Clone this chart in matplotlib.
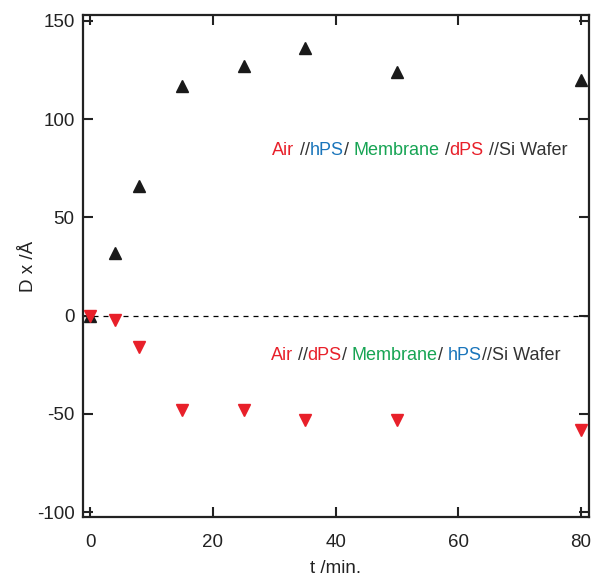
import matplotlib
matplotlib.use("Agg")
import matplotlib.pyplot as plt
from matplotlib.offsetbox import TextArea, HPacker, AnnotationBbox

fam = ["Liberation Sans", "DejaVu Sans"]
plt.rcParams['font.family'] = fam
plt.rcParams['axes.unicode_minus'] = False

# data
t_min = [0, 4, 8, 15, 25, 35, 50, 80]
dx_hps_top = [0, 32, 66, 117, 127, 136, 124, 120]
dx_dps_top = [0, -2, -16, -48, -48, -53, -53, -58]

xticks = [0, 20, 40, 60, 80]
yticks = [-100, -50, 0, 50, 100, 150]

RED = "#e8202a"
BLUE = "#1a75bb"
GREEN = "#17a454"
DARK = "#333333"

label1 = [("Air", RED), (" //", DARK), ("hPS", BLUE), ("/ ", DARK), ("Membrane", GREEN),
          (" /", DARK), ("dPS", RED), (" //Si Wafer", DARK)]
label2 = [("Air", RED), (" //", DARK), ("dPS", RED), ("/ ", DARK), ("Membrane", GREEN),
          ("/ ", DARK), ("hPS", BLUE), ("//Si Wafer", DARK)]

fig = plt.figure(figsize=(5.92, 5.76), dpi=100)
ax = fig.add_axes([0.140, 0.1024, 0.855, 0.8716])

ax.axhline(0, color="black", lw=0.9, ls=(0, (4, 4)), zorder=1)
ax.plot(t_min, dx_hps_top, ls="none", marker="^", ms=8.5, color="#1a1a1a", zorder=3)
ax.plot(t_min, dx_dps_top, ls="none", marker="v", ms=8.5, color=RED, zorder=4)

ax.set_xlim(-1.2, 81.3)
ax.set_ylim(-102.5, 153)
ax.set_xticks(xticks)
ax.set_yticks(yticks)
ax.tick_params(direction="in", top=True, right=True, length=7, width=1.5,
               labelsize=13.5, colors="#222222")
ax.tick_params(axis="x", pad=12)
ax.tick_params(axis="y", pad=6)
for s in ax.spines.values():
    s.set_linewidth(1.6)
    s.set_color("#222222")

ax.set_xlabel("t /min.", fontsize=13.5, color="#222222", labelpad=7)
ax.set_ylabel("D x /Å", fontsize=13.5, color="#222222", labelpad=0)

def multicolor(parts, x, y):
    boxes = [TextArea(txt, textprops=dict(color=c, fontsize=13, family=fam)) for txt, c in parts]
    pack = HPacker(children=boxes, align="baseline", pad=0, sep=0)
    ab = AnnotationBbox(pack, (x, y), xycoords="data", box_alignment=(0, 0.5), frameon=False)
    ax.add_artist(ab)

multicolor(label1, 29.7, 84.2)
multicolor(label2, 29.4, -20.4)

fig.savefig("out.png", dpi=100)
